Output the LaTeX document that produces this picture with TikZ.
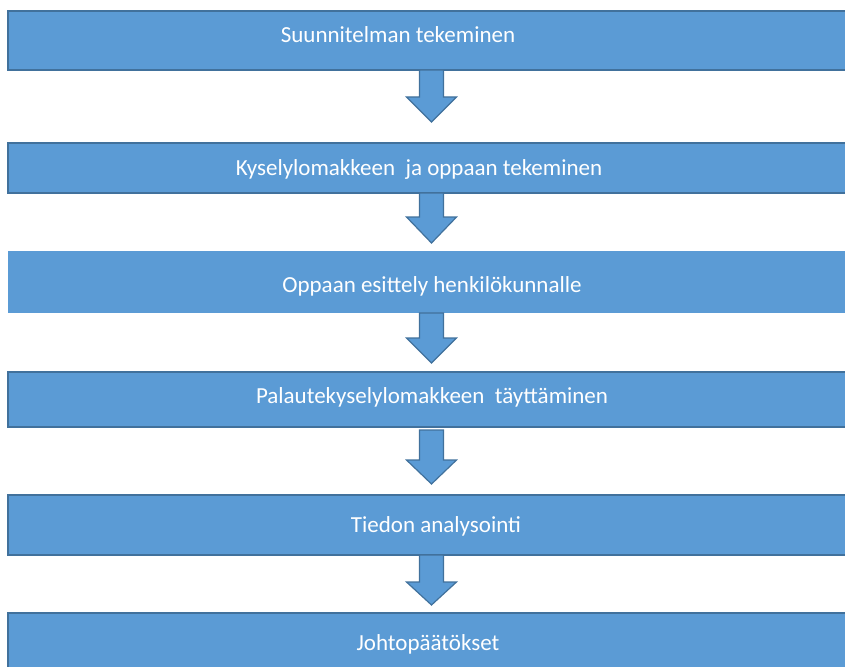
\documentclass[tikz,border=0pt]{standalone}
\usepackage{fontspec}
\setmainfont{Carlito}
\definecolor{boxfill}{HTML}{5B9BD5}
\definecolor{boxline}{HTML}{41719C}
\begin{document}
\begin{tikzpicture}[x=1pt,y=-1pt,
  stepbox/.style={draw=boxline,line width=1.5pt,fill=boxfill},
  plainbox/.style={fill=boxfill},
  steptext/.style={text=white,anchor=base,inner sep=0pt,font=\fontsize{23}{27}\selectfont},
  blockarrow/.style={draw=boxline,line width=1.2pt,fill=boxfill,line join=miter}]
\useasboundingbox (0,0) rectangle (845,666);
% boxes
\path[stepbox] (8,11) rectangle (852,70) coordinate (b1);
\path[stepbox] (8,143) rectangle (852,193) coordinate (b2);
\path[plainbox] (8,251) rectangle (852,313) coordinate (b3);
\path[stepbox] (8,372) rectangle (852,427) coordinate (b4);
\path[stepbox] (8,495) rectangle (852,555) coordinate (b5);
\path[stepbox] (8,613) rectangle (852,690) coordinate (b6);
% texts
\node[steptext] (t1) at (398,42.7) {Suunnitelman tekeminen};
\node[steptext] (t2) at (419,175) {Kyselylomakkeen\ \ ja oppaan tekeminen};
\node[steptext] (t3) at (432,292) {Oppaan esittely henkilökunnalle};
\node[steptext] (t4) at (432,403) {Palautekyselylomakkeen\ \ täyttäminen};
\node[steptext] (t5) at (436,532) {Tiedon analysointi};
\node[steptext] (t6) at (428,650) {Johtopäätökset};
% block arrows
\coordinate (a1) at (431.5,70);
\coordinate (a2) at (431.5,193);
\coordinate (a3) at (431.5,313);
\coordinate (a4) at (431.5,430);
\coordinate (a5) at (431.5,555);
\draw[blockarrow] (a1) ++(-12,0) -- ++(24,0) -- ++(0,27) -- ++(13,0) -- ++(-25,25) -- ++(-25,-25) -- ++(13,0) -- cycle;
\draw[blockarrow] (a2) ++(-12,0) -- ++(24,0) -- ++(0,24) -- ++(13,0) -- ++(-25,26) -- ++(-25,-26) -- ++(13,0) -- cycle;
\draw[blockarrow] (a3) ++(-12,0) -- ++(24,0) -- ++(0,25) -- ++(13,0) -- ++(-25,25) -- ++(-25,-25) -- ++(13,0) -- cycle;
\draw[blockarrow] (a4) ++(-12,0) -- ++(24,0) -- ++(0,30) -- ++(13,0) -- ++(-25,24) -- ++(-25,-24) -- ++(13,0) -- cycle;
\draw[blockarrow] (a5) ++(-12,0) -- ++(24,0) -- ++(0,27) -- ++(13,0) -- ++(-25,23) -- ++(-25,-23) -- ++(13,0) -- cycle;
\end{tikzpicture}
\end{document}
